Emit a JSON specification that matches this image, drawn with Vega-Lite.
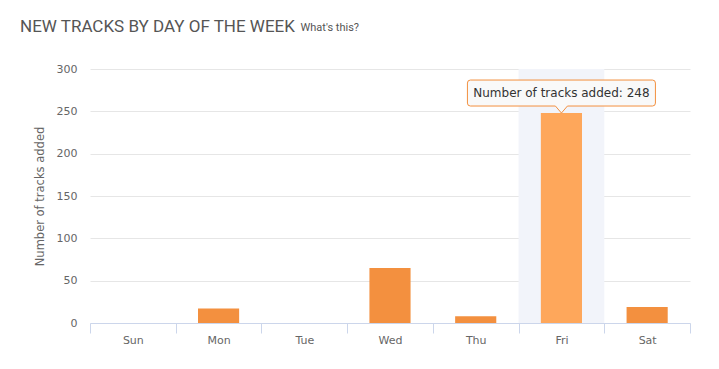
{
  "$schema": "https://vega.github.io/schema/vega-lite/v6.json",
  "width": 600,
  "height": 254,
  "autosize": {"type": "none"},
  "padding": {"left": 90, "top": 69, "right": 29, "bottom": 46},
  "background": "white",
  "title": {
    "text": "NEW TRACKS BY DAY OF THE WEEK",
    "anchor": "start",
    "frame": "group",
    "dx": -70,
    "offset": -28,
    "baseline": "alphabetic",
    "font": "Roboto",
    "fontSize": 17,
    "fontWeight": "normal",
    "color": "#555555"
  },
  "config": {
    "view": {"stroke": null},
    "font": "DejaVu Sans"
  },
  "data": {
    "values": [
      {"day": "Sun", "tracks": 0},
      {"day": "Mon", "tracks": 17},
      {"day": "Tue", "tracks": 0},
      {"day": "Wed", "tracks": 65},
      {"day": "Thu", "tracks": 8},
      {"day": "Fri", "tracks": 248},
      {"day": "Sat", "tracks": 19}
    ]
  },
  "encoding": {
    "x": {
      "field": "day",
      "type": "nominal",
      "sort": ["Sun", "Mon", "Tue", "Wed", "Thu", "Fri", "Sat"],
      "scale": {"paddingInner": 0, "paddingOuter": 0},
      "axis": {
        "title": "What's this?",
        "titleX": 210,
        "titleY": -293,
        "titleAlign": "left",
        "titleAnchor": null,
        "titleBaseline": "alphabetic",
        "titleFont": "Roboto",
        "titleFontSize": 11,
        "titleFontWeight": "normal",
        "titleColor": "#555555",
        "labelAngle": 0,
        "labelFont": "DejaVu Sans",
        "labelFontSize": 11,
        "labelColor": "#666666",
        "labelPadding": 1,
        "domainColor": "#ccd6eb",
        "tickColor": "#ccd6eb",
        "tickSize": 10,
        "tickBand": "extent",
        "grid": false
      }
    },
    "y": {
      "field": "tracks",
      "type": "quantitative",
      "scale": {"domain": [0, 300], "nice": false},
      "axis": {
        "title": "Number of tracks added",
        "titleFont": "DejaVu Sans",
        "titleFontSize": 11.5,
        "titleFontWeight": "normal",
        "titleColor": "#666666",
        "titlePadding": 11,
        "values": [0, 50, 100, 150, 200, 250, 300],
        "labelFont": "DejaVu Sans",
        "labelFontSize": 11,
        "labelColor": "#666666",
        "labelPadding": 13,
        "ticks": false,
        "domain": false,
        "grid": true,
        "gridColor": "#e6e6e6"
      }
    }
  },
  "layer": [
    {
      "transform": [{"filter": "datum.day === 'Fri'"}],
      "mark": {"type": "bar", "width": {"band": 1}, "color": "#f2f4fa"},
      "encoding": {
        "y": {"datum": 300, "type": "quantitative"},
        "y2": {"datum": 0}
      }
    },
    {
      "mark": {"type": "bar", "width": {"band": 0.48}},
      "encoding": {
        "color": {
          "condition": {"test": "datum.day === 'Fri'", "value": "#fea75b"},
          "value": "#f3903f"
        }
      }
    },
    {
      "transform": [{"filter": "datum.day === 'Fri'"}],
      "mark": {
        "type": "point",
        "shape": "M-0.968,-0.351 L0.968,-0.351 Q1,-0.351 1,-0.319 L1,-0.106 Q1,-0.0745 0.968,-0.0745 L0.064,-0.0745 L0,0 L-0.064,-0.0745 L-0.968,-0.0745 Q-1,-0.0745 -1,-0.106 L-1,-0.319 Q-1,-0.351 -0.968,-0.351 Z",
        "size": 35344,
        "filled": true,
        "fill": "#f9f9f9",
        "fillOpacity": 0.95,
        "stroke": "#f3903f",
        "strokeWidth": 1,
        "opacity": 1
      }
    },
    {
      "transform": [
        {"filter": "datum.day === 'Fri'"},
        {"calculate": "'Number of tracks added: ' + datum.tracks", "as": "label"}
      ],
      "mark": {
        "type": "text",
        "dy": -20,
        "baseline": "middle",
        "align": "center",
        "font": "DejaVu Sans",
        "fontSize": 12,
        "color": "#333333"
      },
      "encoding": {"text": {"field": "label"}}
    }
  ]
}
